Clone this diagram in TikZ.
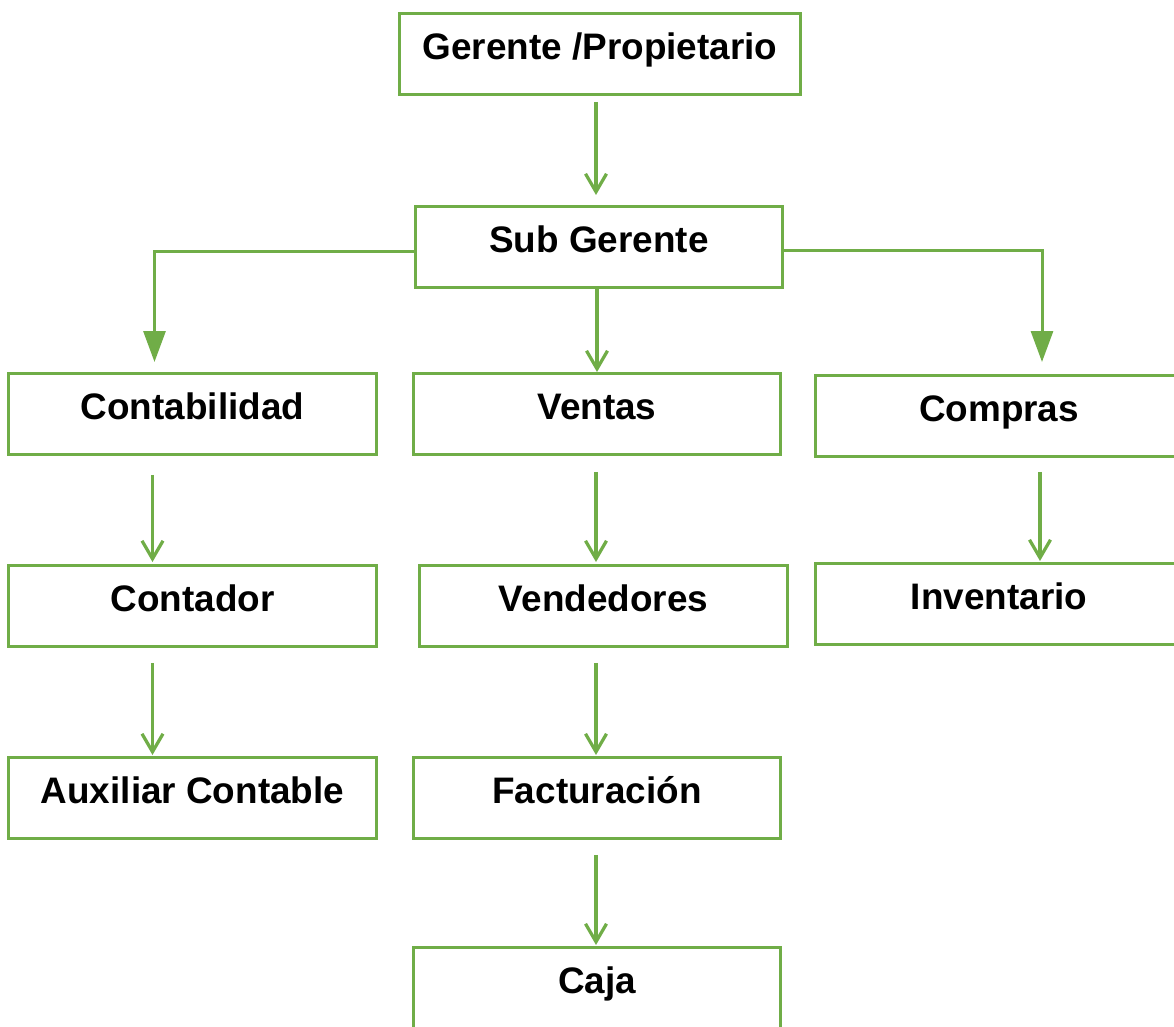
\documentclass[tikz,border=0pt]{standalone}
\usepackage{fontspec}
\setmainfont{Liberation Sans}
\usepackage{tikz}
\usetikzlibrary{arrows.meta,calc}
\definecolor{orggreen}{HTML}{70AD47}

\begin{document}
\begin{tikzpicture}[x=0.02cm,y=-0.02cm,
        box/.style={draw=orggreen,line width=0.06cm,anchor=north,inner xsep=0pt,inner ysep=0pt,
            minimum width=7.36cm,text height=0.92cm,text depth=0.70cm,
            font=\fontsize{21}{25}\selectfont\bfseries},
        arr/.style={draw=orggreen,line width=0.065cm,-{Straight Barb[length=0.36cm,width=0.42cm]}},
        tri/.style={draw=orggreen,line width=0.06cm,-{Triangle[length=0.62cm,width=0.44cm]}}]
        \clip (0,0) rectangle (1174,1027);
        \node[box,minimum width=8.04cm] (ger) at (600,12) {Gerente /Propietario};
        \node[box] (sub) at (599,205) {Sub Gerente};
        \node[box] (cbl) at (192.5,372) {Contabilidad};
        \node[box] (ven) at (597,372) {Ventas};
        \node[box] (com) at (999,374) {Compras};
        \node[box] (cnt) at (192.5,564) {Contador};
        \node[box] (vnd) at (603.5,564) {Vendedores};
        \node[box] (inv) at (999,562) {Inventario};
        \node[box] (aux) at (192.5,756) {Auxiliar Contable};
        \node[box] (fac) at (597,756) {Facturación};
        \node[box] (caj) at (597,946) {Caja};
        % sub gerente
        \draw[arr] ($(ger.south)+(-4,6)$) -- ($(sub.north)+(-3,-10)$);
        \draw[arr] (ven.north |- sub.south) -- (ven.north);
        \draw[tri] ($(sub.west)+(0,5)$) -| ($(cbl.north)+(-38,-10)$);
        \draw[tri] ($(sub.east)+(0,4)$) -| ($(com.north)+(43,-12)$);
        % columnas
        \draw[arr] ($(cbl.south)+(-40,19)$) -- ($(cnt.north)+(-40,-2)$);
        \draw[arr] ($(cnt.south)+(-40,15)$) -- ($(aux.north)+(-40,-1)$);
        \draw[arr] ($(ven.south)+(-1,16)$) -- ($(vnd.north)+(-7.5,-2)$);
        \draw[arr] ($(vnd.south)+(-7.5,15)$) -- ($(fac.north)+(-1,-1)$);
        \draw[arr] ($(fac.south)+(-1,15)$) -- ($(caj.north)+(-1,-1)$);
        \draw[arr] ($(com.south)+(41,14)$) -- ($(inv.north)+(41,-1)$);
    \end{tikzpicture}
\end{document}
